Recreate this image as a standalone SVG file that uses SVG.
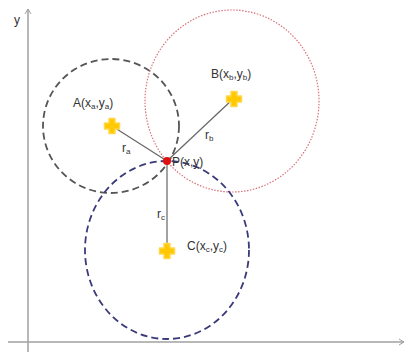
<svg xmlns="http://www.w3.org/2000/svg" width="412" height="356" viewBox="0 0 412 356">
<style>
text{font-family:"Liberation Sans",Arial,sans-serif;font-size:12px;fill:#333}
.sub{font-size:8px}
.ax{stroke:#a0a0a0;stroke-width:1.5;fill:none}
.ln{stroke:#666;stroke-width:1.2;fill:none}
.star{fill:#ffc800;stroke:#ffd84a;stroke-width:1.5;stroke-linejoin:round}
</style>
<defs>
<marker id="ah" markerWidth="8" markerHeight="8" refX="6" refY="4" orient="auto" markerUnits="userSpaceOnUse">
<path d="M1,1 L6,4 L1,7" fill="none" stroke="#a0a0a0" stroke-width="1"/>
</marker>
<path id="plus" d="M-3,-7.5 H3 V-3 H7.5 V3 H3 V7.5 H-3 V3 H-7.5 V-3 H-3 Z"/>
</defs>
<rect width="412" height="356" fill="#fff"/>
<g id="axes">
<line class="ax" x1="28" y1="352" x2="28" y2="9" marker-end="url(#ah)"/>
<line class="ax" x1="8" y1="342" x2="404" y2="342" marker-end="url(#ah)"/>
<text x="14" y="24">y</text>
</g>
<g id="circles">
<ellipse id="circleA" cx="111" cy="126" rx="68" ry="67" fill="none" stroke="#555" stroke-width="1.8" stroke-dasharray="7,4"/>
<ellipse id="circleB" cx="232" cy="101" rx="87" ry="91" fill="none" stroke="#d9707a" stroke-width="1.2" stroke-dasharray="1.5,1.5"/>
<ellipse id="circleC" cx="167" cy="250" rx="82" ry="89" fill="none" stroke="#3a3a7a" stroke-width="1.8" stroke-dasharray="7,4"/>
</g>
<g id="connectors">
<line class="ln" x1="167" y1="161" x2="112" y2="126"/>
<line class="ln" x1="167" y1="161" x2="233" y2="99"/>
<line class="ln" x1="167" y1="161" x2="167" y2="250"/>
</g>
<g id="nodeA">
<use href="#plus" class="star" x="112" y="126"/>
<text x="73" y="107">A(x<tspan class="sub" dy="2">a</tspan><tspan dy="-2">,y</tspan><tspan class="sub" dy="2">a</tspan><tspan dy="-2">)</tspan></text>
<text x="122" y="152">r<tspan class="sub" dy="2">a</tspan></text>
</g>
<g id="nodeB">
<use href="#plus" class="star" x="234" y="99"/>
<text x="211" y="78">B(x<tspan class="sub" dy="2">b</tspan><tspan dy="-2">,y</tspan><tspan class="sub" dy="2">b</tspan><tspan dy="-2">)</tspan></text>
<text x="205" y="139">r<tspan class="sub" dy="2">b</tspan></text>
</g>
<g id="nodeC">
<use href="#plus" class="star" x="167" y="251"/>
<text x="187" y="250">C(x<tspan class="sub" dy="2">c</tspan><tspan dy="-2">,y</tspan><tspan class="sub" dy="2">c</tspan><tspan dy="-2">)</tspan></text>
<text x="157" y="218">r<tspan class="sub" dy="2">c</tspan></text>
</g>
<g id="nodeP">
<circle cx="167" cy="161" r="4" fill="#e01010"/>
<text x="172" y="166">P(x,y)</text>
</g>
</svg>
